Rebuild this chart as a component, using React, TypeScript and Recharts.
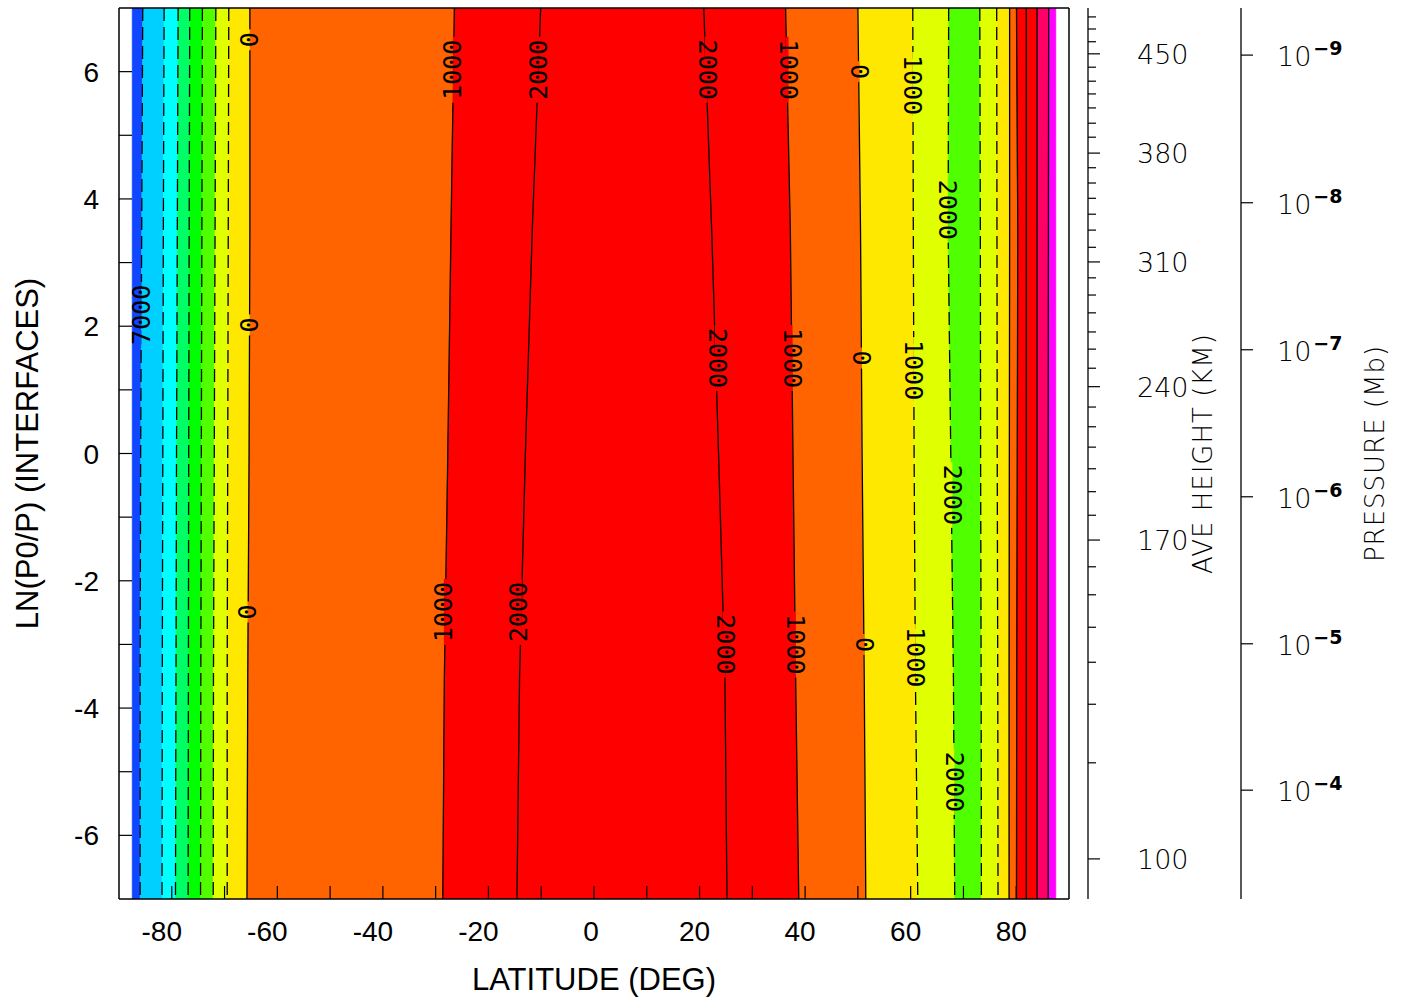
import React from "react";
import { ComposedChart, Area, Line, XAxis, YAxis, ReferenceDot, Label } from "recharts";

const zLevels = [7, 3.5, 0, -3.5, -7];

// latitude (deg) of every colour edge / contour at those levels, south to north
const gridSouth = [-87.5, -87.5, -87.5, -87.5, -87.5];
const sM7000 = [-85.5, -85.7, -85.9, -86.0, -86.0];
const sM6000 = [-81.45, -81.6, -81.7, -81.8, -81.85];
const sM5000 = [-78.8, -78.95, -79.1, -79.2, -79.3];
const sM4000 = [-76.6, -76.7, -76.8, -76.85, -76.9];
const sM3000 = [-74.2, -74.3, -74.4, -74.5, -74.55];
const sM2000 = [-71.65, -71.8, -71.95, -72.1, -72.15];
const sM1000 = [-69.2, -69.3, -69.4, -69.5, -69.5];
const s0 = [-65.2, -65.2, -65.35, -65.6, -65.75];
const s1000 = [-26.45, -27.1, -27.7, -28.35, -28.65];
const s2000 = [-10.1, -11.7, -13.0, -14.1, -14.6];
const e2000 = [20.8, 22.3, 23.6, 24.8, 25.2];
const e1000 = [36.3, 37.2, 37.7, 38.2, 38.8];
const e0 = [50.0, 50.5, 50.8, 51.2, 51.5];
const eM1000 = [60.4, 60.5, 60.65, 60.9, 61.35];
const eM2000 = [67.2, 67.1, 67.6, 68.1, 68.35];
const nM2000 = [73.1, 73.2, 73.25, 73.35, 73.4];
const nM1000 = [76.3, 76.35, 76.4, 76.5, 76.55];
const n0 = [78.75, 78.75, 78.7, 78.65, 78.65];
const n1000 = [80.05, 80.3, 80.2, 80.1, 80.05];
const n2000 = [81.9, 81.9, 81.9, 81.9, 81.9];
const n3000 = [83.95, 83.95, 83.95, 83.95, 83.95];
const n4000 = [86.15, 86.1, 86.05, 86.05, 86.05];
const gridNorth = [87.5, 87.5, 87.5, 87.5, 87.5];

const edges = [
  gridSouth, sM7000, sM6000, sM5000, sM4000, sM3000, sM2000, sM1000, s0, s1000, s2000,
  e2000, e1000, e0, eM1000, eM2000, nM2000, nM1000, n0, n1000, n2000, n3000, n4000, gridNorth,
];
// contour value on each edge (null = edge of the data grid, no line)
const edgeLevels = [
  null, -7000, -6000, -5000, -4000, -3000, -2000, -1000, 0, 1000, 2000,
  2000, 1000, 0, -1000, -2000, -2000, -1000, 0, 1000, 2000, 3000, 4000, null,
];

const bandColors = [
  "#1046ff", "#00d0ff", "#00ffff", "#00ff66", "#00ff00", "#50ff00", "#e0ff00", "#ffe800",
  "#ff6400", "#ff0000", "#ff0000", "#ff0000", "#ff6400", "#ffe800", "#e0ff00", "#50ff00",
  "#e0ff00", "#ffe800", "#ff6400", "#ff0000", "#ff0000", "#ff0066", "#ff00ff",
];

// contour labels: edge index, latitude, ln(p0/p)
const labelSpots = [
  { c: 1, lat: -85.75, z: 2.18 },
  { c: 8, lat: -65.2, z: 6.5 }, { c: 8, lat: -65.2, z: 2.02 }, { c: 8, lat: -65.6, z: -2.49 },
  { c: 9, lat: -26.75, z: 6.03 }, { c: 9, lat: -28.45, z: -2.49 },
  { c: 10, lat: -10.55, z: 6.03 }, { c: 10, lat: -14.25, z: -2.49 },
  { c: 11, lat: 21.55, z: 6.03 }, { c: 11, lat: 23.45, z: 1.5 }, { c: 11, lat: 24.95, z: -3.0 },
  { c: 12, lat: 36.9, z: 6.03 }, { c: 12, lat: 37.65, z: 1.5 }, { c: 12, lat: 38.25, z: -3.0 },
  { c: 13, lat: 50.35, z: 6.0 }, { c: 13, lat: 50.75, z: 1.5 }, { c: 13, lat: 51.3, z: -3.0 },
  { c: 14, lat: 60.4, z: 5.79 }, { c: 14, lat: 60.6, z: 1.31 }, { c: 14, lat: 60.95, z: -3.2 },
  { c: 15, lat: 67.05, z: 3.83 }, { c: 15, lat: 67.95, z: -0.65 }, { c: 15, lat: 68.35, z: -5.16 },
];

const latTicks = [-80, -70, -60, -50, -40, -30, -20, -10, 0, 10, 20, 30, 40, 50, 60, 70, 80];
const zTicks = [-6, -5, -4, -3, -2, -1, 0, 1, 2, 3, 4, 5, 6];

// average height axis (km) and where its ticks sit in ln(p0/p)
const heightKm = [480, 470, 460, 450, 440, 430, 420, 410, 400, 390, 380, 370, 360, 350, 340, 330, 320, 310, 300, 290, 280, 270, 260, 250, 240, 230, 220, 210, 200, 190, 180, 170, 160, 150, 140, 130, 120, 110, 100];
const heightZ = [6.86, 6.67, 6.47, 6.28, 6.07, 5.85, 5.65, 5.43, 5.19, 4.97, 4.72, 4.49, 4.25, 4.01, 3.76, 3.51, 3.24, 3.01, 2.76, 2.49, 2.21, 1.91, 1.64, 1.34, 1.05, 0.73, 0.42, 0.1, -0.24, -0.6, -0.97, -1.36, -1.78, -2.22, -2.73, -3.28, -3.94, -4.86, -6.37];
const heightLabeled = [450, 380, 310, 240, 170, 100];

// pressure axis (Mb) exponents and their ln(p0/p) positions
const pressureExp = [-9, -8, -7, -6, -5, -4];
const pressureZ = [6.26, 3.94, 1.63, -0.68, -2.99, -5.29];

const rows = zLevels.map((z, r) => {
  const row: any = { z };
  edges.forEach((e, i) => { row["e" + i] = e[r]; });
  bandColors.forEach((_, i) => { row["b" + i] = [edges[i][r], edges[i + 1][r]]; });
  return row;
});

const SANS = "'Liberation Sans', Arial, sans-serif";
const THIN = "'DejaVu Sans', sans-serif";

const LatTick = (p: any) => {
  const v = p.payload.value;
  if (v % 20 !== 0) return <g />;
  const shift = v < 0 ? 10 : v === 0 ? 3 : 5;
  return (
    <text x={p.x - shift} y={p.y + 55} textAnchor="middle" fontFamily={SANS} fontSize={28} fill="#000">{String(v)}</text>
  );
};

const ZTick = (p: any) => {
  const v = p.payload.value;
  if (v % 2 !== 0) return <g />;
  return (
    <text x={p.x - 33} y={p.y + 10} textAnchor="end" fontFamily={SANS} fontSize={28} fill="#000">{String(v)}</text>
  );
};

const KmTick = (p: any) => {
  const i = heightZ.indexOf(p.payload.value);
  const km = heightKm[i];
  const major = heightLabeled.includes(km);
  return (
    <g>
      <line x1={p.x} x2={p.x + (major ? 12 : 8)} y1={p.y} y2={p.y} stroke="#000" strokeWidth={1.2} />
      {major && (
        <text x={p.x + 49} y={p.y + 10} fontFamily={THIN} fontWeight={200} fontSize={27} fill="#000">{km}</text>
      )}
    </g>
  );
};

const PTick = (p: any) => {
  const i = pressureZ.indexOf(p.payload.value);
  return (
    <text x={p.x} y={p.y + 11} fontFamily={THIN} fontWeight={200} fontSize={27} fill="#000">
      10
      <tspan dx={2} dy={-11} fontSize={19} fontWeight={700}>{"\u2212" + Math.abs(pressureExp[i])}</tspan>
    </text>
  );
};

const axisTitle = (text: string, dx: number, font: string, size: number, weight: number, spacing: number) =>
  (props: any) => {
    const vb = props.viewBox || { x: 0, y: 8, width: 0, height: 891 };
    const x = vb.x + dx;
    const y = vb.y + vb.height / 2;
    return (
      <text x={x} y={y} transform={`rotate(-90, ${x}, ${y})`} textAnchor="middle" dominantBaseline="central"
        fontFamily={font} fontSize={size} fontWeight={weight} letterSpacing={spacing} fill="#000">{text}</text>
    );
  };

const ContourLabel = (spot: { c: number; lat: number; z: number }) => (p: any) => {
  const text = String(Math.abs(edgeLevels[spot.c] as number));
  const len = text.length * 15 + 6;
  const rot = spot.lat < 0 ? -90 : 90;
  return (
    <g>
      <rect x={p.cx - 3} y={p.cy - len / 2} width={3} height={len} fill={bandColors[spot.c - 1]} />
      <rect x={p.cx} y={p.cy - len / 2} width={3} height={len} fill={bandColors[spot.c]} />
      <text x={p.cx} y={p.cy} transform={`rotate(${rot}, ${p.cx}, ${p.cy})`} textAnchor="middle" dominantBaseline="central"
        fontFamily="'DejaVu Sans Mono', monospace" fontSize={25} fill="#000">{text}</text>
    </g>
  );
};

export default function App() {
  return (
    <div style={{ position: "absolute", left: 0, top: 0, background: "#fff" }}>
      <ComposedChart width={1403} height={999} data={rows} layout="vertical" margin={{ top: 7, right: 0, bottom: 0, left: 0 }}>
        <XAxis xAxisId="lat" type="number" domain={[-90, 90]} allowDataOverflow ticks={latTicks} interval={0}
          height={100} tickSize={-13} tickMargin={0} tick={LatTick}
          axisLine={{ stroke: "#000", strokeWidth: 1.5 }} tickLine={{ stroke: "#000", strokeWidth: 1.2 }}>
          <Label content={(props: any) => {
            const vb = props.viewBox || { x: 119, y: 899, width: 950, height: 100 };
            return (
              <text x={vb.x + vb.width / 2} y={vb.y + 91} textAnchor="middle" fontFamily={SANS} fontSize={31} fill="#000">LATITUDE (DEG)</text>
            );
          }} />
        </XAxis>
        <XAxis xAxisId="top" orientation="top" type="number" domain={[-90, 90]} allowDataOverflow ticks={latTicks} interval={0}
          height={1} tickSize={-13} tick={false}
          axisLine={{ stroke: "#000", strokeWidth: 1.5 }} tickLine={{ stroke: "#000", strokeWidth: 1.2 }} />
        <YAxis yAxisId="z" dataKey="z" type="number" domain={[-7, 7]} allowDataOverflow reversed ticks={zTicks} interval={0}
          width={119} tickSize={-13} tickMargin={0} tick={ZTick}
          axisLine={{ stroke: "#000", strokeWidth: 1.5 }} tickLine={{ stroke: "#000", strokeWidth: 1.2 }}>
          <Label content={axisTitle("LN(P0/P) (INTERFACES)", 27, SANS, 31, 400, 0)} />
        </YAxis>
        <YAxis yAxisId="frame" dataKey="z" orientation="right" type="number" domain={[-7, 7]} allowDataOverflow reversed ticks={zTicks} interval={0}
          width={19} tickSize={-13} tick={false}
          axisLine={{ stroke: "#000", strokeWidth: 1.5 }} tickLine={{ stroke: "#000", strokeWidth: 1.2 }} />
        <YAxis yAxisId="km" dataKey="z" orientation="right" type="number" domain={[-7, 7]} allowDataOverflow reversed ticks={heightZ} interval={0}
          width={153} tickSize={0} tickMargin={0} tickLine={false} tick={KmTick}
          axisLine={{ stroke: "#000", strokeWidth: 1.3 }}>
          <Label content={axisTitle("AVE HEIGHT (KM)", 115, THIN, 26, 200, 1)} />
        </YAxis>
        <YAxis yAxisId="p" dataKey="z" orientation="right" type="number" domain={[-7, 7]} allowDataOverflow reversed ticks={pressureZ} interval={0}
          width={162} tickSize={12} tickMargin={24} tick={PTick}
          axisLine={{ stroke: "#000", strokeWidth: 1.3 }} tickLine={{ stroke: "#000", strokeWidth: 1.2 }}>
          <Label content={axisTitle("PRESSURE (Mb)", 134, THIN, 26, 200, 1)} />
        </YAxis>

        {bandColors.map((color, i) => (
          <Area key={"b" + i} xAxisId="lat" yAxisId="z" dataKey={"b" + i} type="linear"
            fill={color} fillOpacity={1} stroke={color} strokeWidth={0.6} isAnimationActive={false} activeDot={false} />
        ))}
        {edgeLevels.map((level, i) =>
          level === null ? null : (
            <Line key={"e" + i} xAxisId="lat" yAxisId="z" dataKey={"e" + i} type="linear"
              stroke="#000" strokeWidth={1.3} strokeDasharray={level < 0 ? "13 6" : undefined}
              dot={false} activeDot={false} isAnimationActive={false} />
          )
        )}
        {labelSpots.map((s, i) => (
          <ReferenceDot key={"l" + i} xAxisId="lat" yAxisId="z" x={s.lat} y={s.z} shape={ContourLabel(s)} />
        ))}
      </ComposedChart>
    </div>
  );
}
